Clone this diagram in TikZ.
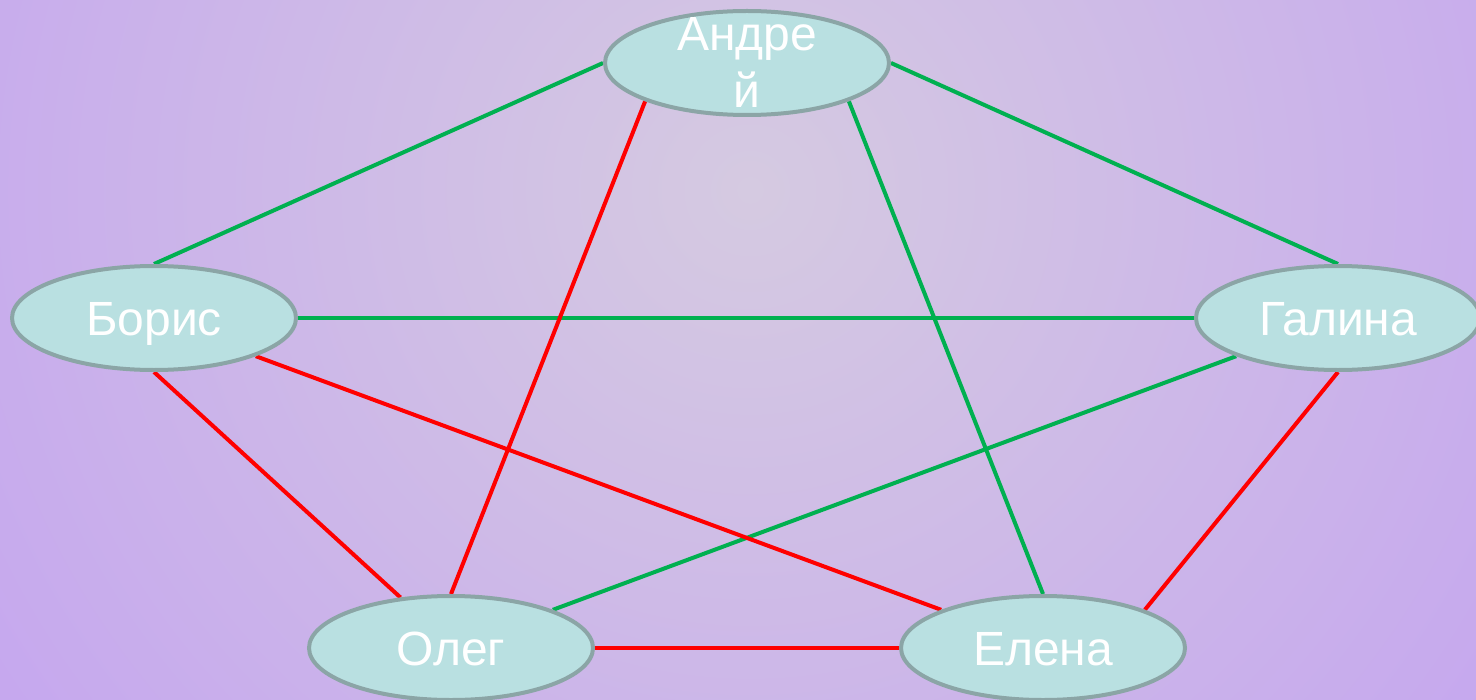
\documentclass[tikz,border=0pt]{standalone}
\usepackage{fontspec}
\setmainfont{Liberation Sans}
\usetikzlibrary{shapes.geometric}
\definecolor{bgin}{HTML}{D5CAE1}
\definecolor{bgout}{HTML}{C5A6EF}
\definecolor{nodefill}{HTML}{B9E0E1}
\definecolor{nodeline}{HTML}{8BA5A6}
\definecolor{egreen}{HTML}{00B050}
\definecolor{ered}{HTML}{FF0000}
\pgfdeclarelayer{bg}
\pgfdeclarelayer{edges}
\pgfsetlayers{bg,edges,main}
\tikzset{
  person/.style={ellipse, draw=nodeline, fill=nodefill, line width=2pt,
    minimum width=142pt, minimum height=52pt, inner sep=0pt},
  pname/.style={text=white, font=\fontsize{24}{28.5}\selectfont, inner sep=0pt,
    align=center, text height=17pt, text depth=0pt},
  greenedge/.style={draw=egreen, line width=2pt},
  rededge/.style={draw=ered, line width=2pt}
}
\begin{document}
\begin{tikzpicture}[x=0.5pt,y=-0.5pt]
\useasboundingbox (0,0) rectangle (1476,700);
\begin{pgfonlayer}{bg}
  \clip (0,0) rectangle (1476,700);
  \shade[inner color=bgin, outer color=bgout] (750,190) circle (950);
\end{pgfonlayer}
\node[person] (A) at (747,63) {};
\node[person] (B) at (154,318) {};
\node[person] (G) at (1338,318) {};
\node[person] (O) at (451,648) {};
\node[person] (E) at (1043,648) {};
\node[pname, anchor=base] (tA) at (747,108) {Андре\\й};
\node[pname] (tB) at (B) {Борис};
\node[pname] (tG) at (G) {Галина};
\node[pname] (tO) at (O) {Олег};
\node[pname] (tE) at (E) {Елена};
\begin{pgfonlayer}{edges}
  \draw[greenedge] (A.west) -- (B.north);
  \draw[greenedge] (A.east) -- (G.north);
  \draw[greenedge] (A.south east) -- (E.north);
  \draw[greenedge] (B.east) -- (G.west);
  \draw[greenedge] (G.south west) -- (O.north east);
  \draw[rededge] (A.south west) -- (O.north);
  \draw[rededge] (B.south) -- (O.135);
  \draw[rededge] (B.south east) -- (E.north west);
  \draw[rededge] (G.south) -- (E.north east);
  \draw[rededge] (O.east) -- (E.west);
\end{pgfonlayer}
\end{tikzpicture}
\end{document}
